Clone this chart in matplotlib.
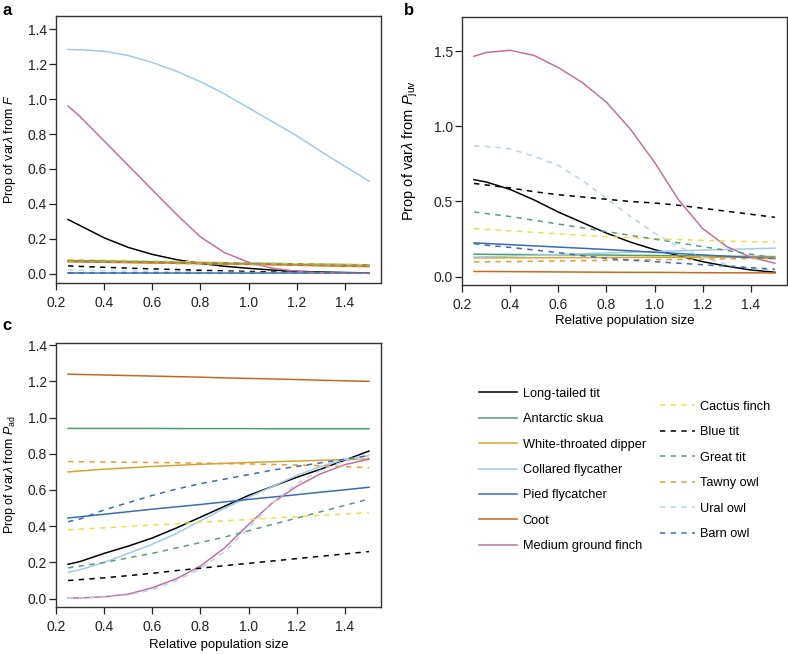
import matplotlib
matplotlib.use('Agg')
import matplotlib.pyplot as plt
from matplotlib.lines import Line2D

plt.rcParams['font.family'] = ['Liberation Sans', 'DejaVu Sans']
plt.rcParams['mathtext.fontset'] = 'custom'
plt.rcParams['mathtext.rm'] = 'Liberation Sans'
plt.rcParams['mathtext.it'] = 'Liberation Sans:italic'
plt.rcParams['font.size'] = 9

# relative population size
x = [0.25, 0.3, 0.4, 0.5, 0.6, 0.7, 0.8, 0.9, 1.0, 1.1, 1.2, 1.3, 1.4, 1.5]

solid_species = ['Long-tailed tit', 'Antarctic skua', 'White-throated dipper',
                 'Collared flycather', 'Pied flycatcher', 'Coot', 'Medium ground finch']
dashed_species = ['Cactus finch', 'Blue tit', 'Great tit', 'Tawny owl', 'Ural owl', 'Barn owl']

colors = {
    'Long-tailed tit': 'black',
    'Antarctic skua': '#4f9e70',
    'White-throated dipper': '#d8a42c',
    'Collared flycather': '#a3c9e8',
    'Pied flycatcher': '#3b6cb2',
    'Coot': '#c8681e',
    'Medium ground finch': '#c2719f',
    'Cactus finch': '#ebe14a',
    'Blue tit': 'black',
    'Great tit': '#5c9c7c',
    'Tawny owl': '#dba032',
    'Ural owl': '#b7d3ea',
    'Barn owl': '#3b6cb2',
}

# panel a: proportion of var lambda from F
prop_F = {
    'Long-tailed tit': [0.31, 0.275, 0.205, 0.15, 0.11, 0.08, 0.058, 0.042, 0.03, 0.02, 0.013, 0.009, 0.006, 0.004],
    'Antarctic skua': [0.075, 0.074, 0.072, 0.07, 0.068, 0.066, 0.064, 0.062, 0.06, 0.058, 0.056, 0.054, 0.052, 0.05],
    'White-throated dipper': [0.07, 0.069, 0.067, 0.065, 0.063, 0.061, 0.059, 0.057, 0.055, 0.053, 0.051, 0.049, 0.047, 0.045],
    'Collared flycather': [1.285, 1.283, 1.275, 1.25, 1.21, 1.16, 1.10, 1.03, 0.95, 0.87, 0.79, 0.70, 0.615, 0.53],
    'Pied flycatcher': [0.003, 0.003, 0.003, 0.003, 0.003, 0.003, 0.003, 0.003, 0.003, 0.003, 0.003, 0.003, 0.003, 0.003],
    'Coot': [0.068, 0.067, 0.065, 0.063, 0.061, 0.059, 0.057, 0.055, 0.053, 0.051, 0.048, 0.045, 0.042, 0.04],
    'Medium ground finch': [0.96, 0.90, 0.76, 0.62, 0.48, 0.34, 0.21, 0.12, 0.065, 0.03, 0.013, 0.005, 0.002, 0.001],
    'Cactus finch': [0.08, 0.079, 0.077, 0.075, 0.072, 0.069, 0.066, 0.063, 0.06, 0.058, 0.056, 0.054, 0.052, 0.05],
    'Blue tit': [0.044, 0.041, 0.036, 0.031, 0.027, 0.023, 0.019, 0.015, 0.012, 0.009, 0.007, 0.005, 0.003, 0.002],
    'Great tit': [0.075, 0.074, 0.072, 0.069, 0.066, 0.063, 0.06, 0.058, 0.056, 0.054, 0.051, 0.049, 0.047, 0.045],
    'Tawny owl': [0.07, 0.069, 0.067, 0.064, 0.061, 0.058, 0.056, 0.054, 0.052, 0.05, 0.047, 0.045, 0.042, 0.04],
    'Ural owl': [0.02, 0.019, 0.017, 0.015, 0.013, 0.011, 0.009, 0.008, 0.006, 0.005, 0.004, 0.003, 0.002, 0.002],
    'Barn owl': [0.002, 0.002, 0.002, 0.002, 0.002, 0.002, 0.002, 0.002, 0.002, 0.002, 0.002, 0.002, 0.002, 0.002],
}

# panel b: from P_juv
prop_Pjuv = {
    'Long-tailed tit': [0.645, 0.63, 0.58, 0.51, 0.43, 0.36, 0.29, 0.23, 0.18, 0.14, 0.10, 0.07, 0.045, 0.03],
    'Antarctic skua': [0.15, 0.149, 0.148, 0.147, 0.146, 0.145, 0.144, 0.142, 0.141, 0.14, 0.138, 0.136, 0.135, 0.134],
    'White-throated dipper': [0.125, 0.125, 0.126, 0.126, 0.127, 0.127, 0.128, 0.128, 0.129, 0.129, 0.13, 0.13, 0.13, 0.13],
    'Collared flycather': [0.13, 0.133, 0.138, 0.143, 0.148, 0.153, 0.158, 0.163, 0.168, 0.172, 0.177, 0.181, 0.186, 0.19],
    'Pied flycatcher': [0.225, 0.221, 0.213, 0.205, 0.197, 0.189, 0.181, 0.172, 0.163, 0.154, 0.145, 0.136, 0.127, 0.12],
    'Coot': [0.035, 0.035, 0.034, 0.033, 0.032, 0.031, 0.030, 0.029, 0.029, 0.028, 0.027, 0.026, 0.026, 0.025],
    'Medium ground finch': [1.465, 1.49, 1.505, 1.47, 1.39, 1.29, 1.16, 0.98, 0.76, 0.51, 0.32, 0.20, 0.13, 0.09],
    'Cactus finch': [0.32, 0.315, 0.305, 0.295, 0.285, 0.275, 0.267, 0.26, 0.253, 0.247, 0.242, 0.237, 0.233, 0.23],
    'Blue tit': [0.62, 0.61, 0.59, 0.565, 0.545, 0.53, 0.515, 0.50, 0.49, 0.475, 0.455, 0.435, 0.415, 0.395],
    'Great tit': [0.43, 0.42, 0.40, 0.375, 0.35, 0.325, 0.30, 0.275, 0.25, 0.225, 0.20, 0.175, 0.15, 0.125],
    'Tawny owl': [0.098, 0.099, 0.101, 0.103, 0.105, 0.107, 0.109, 0.111, 0.113, 0.115, 0.117, 0.119, 0.121, 0.122],
    'Ural owl': [0.87, 0.865, 0.85, 0.80, 0.74, 0.64, 0.52, 0.40, 0.29, 0.20, 0.13, 0.08, 0.055, 0.04],
    'Barn owl': [0.22, 0.21, 0.195, 0.178, 0.16, 0.14, 0.122, 0.11, 0.10, 0.09, 0.08, 0.07, 0.06, 0.05],
}

# panel c: from P_ad
prop_Pad = {
    'Long-tailed tit': [0.19, 0.205, 0.25, 0.29, 0.335, 0.39, 0.45, 0.51, 0.57, 0.62, 0.67, 0.715, 0.765, 0.815],
    'Antarctic skua': [0.94, 0.94, 0.94, 0.94, 0.94, 0.939, 0.939, 0.939, 0.939, 0.938, 0.938, 0.938, 0.938, 0.938],
    'White-throated dipper': [0.70, 0.705, 0.715, 0.722, 0.73, 0.736, 0.742, 0.747, 0.752, 0.756, 0.76, 0.764, 0.768, 0.772],
    'Collared flycather': [0.145, 0.16, 0.20, 0.25, 0.30, 0.36, 0.43, 0.50, 0.56, 0.62, 0.68, 0.73, 0.77, 0.79],
    'Pied flycatcher': [0.445, 0.452, 0.466, 0.48, 0.494, 0.507, 0.52, 0.534, 0.548, 0.561, 0.574, 0.588, 0.601, 0.615],
    'Coot': [1.24, 1.238, 1.235, 1.232, 1.229, 1.226, 1.223, 1.219, 1.216, 1.213, 1.21, 1.206, 1.203, 1.20],
    'Medium ground finch': [0.003, 0.004, 0.01, 0.025, 0.06, 0.11, 0.18, 0.28, 0.41, 0.53, 0.62, 0.69, 0.74, 0.77],
    'Cactus finch': [0.38, 0.384, 0.391, 0.399, 0.407, 0.414, 0.422, 0.43, 0.437, 0.445, 0.453, 0.46, 0.468, 0.475],
    'Blue tit': [0.10, 0.105, 0.115, 0.127, 0.14, 0.155, 0.168, 0.182, 0.195, 0.208, 0.221, 0.234, 0.247, 0.26],
    'Great tit': [0.17, 0.18, 0.20, 0.225, 0.25, 0.28, 0.31, 0.34, 0.375, 0.41, 0.445, 0.48, 0.515, 0.55],
    'Tawny owl': [0.757, 0.756, 0.755, 0.753, 0.752, 0.75, 0.748, 0.746, 0.744, 0.741, 0.738, 0.734, 0.729, 0.723],
    'Ural owl': [0.002, 0.003, 0.008, 0.02, 0.05, 0.10, 0.165, 0.26, 0.39, 0.53, 0.635, 0.71, 0.76, 0.78],
    'Barn owl': [0.425, 0.44, 0.49, 0.53, 0.57, 0.605, 0.635, 0.66, 0.685, 0.71, 0.73, 0.75, 0.77, 0.79],
}

xticks = [0.2, 0.4, 0.6, 0.8, 1.0, 1.2, 1.4]
dash = (3.5, 3.5)

fig = plt.figure(figsize=(7.88, 6.54), dpi=100)
ax_a = fig.add_axes([0.0711, 0.5673, 0.4124, 0.4083])
ax_b = fig.add_axes([0.5863, 0.5642, 0.4124, 0.4098])
ax_c = fig.add_axes([0.0711, 0.0719, 0.4124, 0.4040])


def draw(ax, vals, ylim, yticks, ylabel, ylabel_size, ylabel_x,
         xlabel=None, xlabel_y=-0.115):
    for sp in solid_species:
        ax.plot(x, vals[sp], color=colors[sp], lw=1.1)
    for sp in dashed_species:
        ax.plot(x, vals[sp], color=colors[sp], lw=1.1, dashes=dash)
    ax.set_xlim(0.2, 1.55)
    ax.set_ylim(*ylim)
    ax.set_xticks(xticks)
    ax.set_xticklabels(['%.1f' % t for t in xticks])
    ax.set_yticks(yticks)
    ax.set_yticklabels(['%.1f' % t for t in yticks])
    ax.tick_params(direction='out', length=5, width=0.9, colors='#222222', labelsize=10)
    ax.tick_params(axis='y', pad=1.5)
    ax.tick_params(axis='x', pad=4.5)
    for s in ax.spines.values():
        s.set_color('#333333')
        s.set_linewidth(1.0)
    ax.set_ylabel(ylabel, fontsize=ylabel_size)
    ax.yaxis.set_label_coords(ylabel_x, 0.5)
    if xlabel:
        ax.set_xlabel(xlabel, fontsize=9.5)
        ax.xaxis.set_label_coords(0.5, xlabel_y)


draw(ax_a, prop_F, (-0.054, 1.477), [0, 0.2, 0.4, 0.6, 0.8, 1.0, 1.2, 1.4],
     r'Prop of var$\lambda$ from $F$', 9, -0.118)
draw(ax_b, prop_Pjuv, (-0.055, 1.726), [0, 0.5, 1.0, 1.5],
     r'Prop of var$\lambda$ from $P_{\rm juv}$', 10.5, -0.128,
     'Relative population size', -0.112)
draw(ax_c, prop_Pad, (-0.046, 1.413), [0, 0.2, 0.4, 0.6, 0.8, 1.0, 1.2, 1.4],
     r'Prop of var$\lambda$ from $P_{\rm ad}$', 9, -0.118,
     'Relative population size', -0.122)

fig.text(0.003, 0.995, 'a', fontsize=12, fontweight='bold', va='top')
fig.text(0.513, 0.995, 'b', fontsize=12, fontweight='bold', va='top')
fig.text(0.003, 0.513, 'c', fontsize=12, fontweight='bold', va='top')

h1 = [Line2D([], [], color=colors[sp], lw=1.1) for sp in solid_species]
h2 = [Line2D([], [], color=colors[sp], lw=1.1, dashes=dash) for sp in dashed_species]
fig.legend(h1, solid_species, loc='upper left', bbox_to_anchor=(0.608, 0.407),
           frameon=False, fontsize=9.2, handlelength=3.0, handletextpad=0.4,
           labelspacing=1.05, borderpad=0, borderaxespad=0)
fig.legend(h2, dashed_species, loc='upper left', bbox_to_anchor=(0.837, 0.387),
           frameon=False, fontsize=9.2, handlelength=2.8, handletextpad=0.4,
           labelspacing=1.05, borderpad=0, borderaxespad=0)

fig.savefig('out.png', dpi=100)
